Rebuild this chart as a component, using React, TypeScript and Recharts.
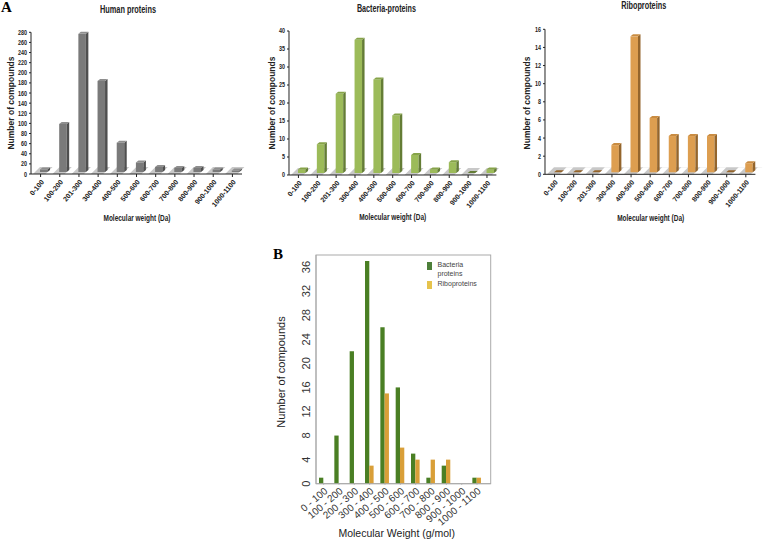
import { BarChart, Bar, XAxis, YAxis } from "recharts";

const ranges = ["0-100", "100-200", "201-300", "300-400", "400-500", "500-600", "600-700", "700-800", "800-900", "900-1000", "1000-1100"];
const rangesB = ["0 - 100", "100 - 200", "200 - 300", "300 - 400", "400 - 500", "500 - 600", "600 - 700", "700 - 800", "800 - 900", "900 - 1000", "1000 - 1100"];

const humanValues = [5, 95, 273, 180, 58, 19, 10, 8, 8, 5, 3];
const bacteriaValues = [1, 8, 22, 37, 26, 16, 5, 1, 3, 0, 1];
const riboValues = [0, 0, 0, 3, 15, 6, 4, 4, 4, 0, 1];

const bacteriaB = [1, 8, 22, 37, 26, 16, 5, 1, 3, 0, 1];
const riboB = [0, 0, 0, 3, 15, 6, 4, 4, 4, 0, 1];

const humanTicks = [0, 20, 40, 60, 80, 100, 120, 140, 160, 180, 200, 220, 240, 260, 280];
const bacteriaTicks = [0, 5, 10, 15, 20, 25, 30, 35, 40];
const riboTicks = [0, 2, 4, 6, 8, 10, 12, 14, 16];
const ticksB = [0, 4, 8, 12, 16, 20, 24, 28, 32, 36];

const ARIAL = "'Liberation Sans', Arial, sans-serif";
const INK = "#222";

type Colors = { front: string; side: string; top: string };

/** Excel-style 3D column: front face, dark side, light cap, nudged onto the floor. */
function Bar3D(props: any) {
  const { x, y, width, height, colors } = props as { x: number; y: number; width: number; height: number; colors: Colors };
  const fx = x + 3;
  const fy = y - 2;
  const d = 2.5;
  const z = 2;
  if (!height) {
    return <polygon points={`${fx},${fy} ${fx + d},${fy - z} ${fx + width + d},${fy - z} ${fx + width},${fy}`} fill={colors.side} />;
  }
  return (
    <g>
      <rect x={fx} y={fy} width={width} height={height} fill={colors.front} />
      <polygon points={`${fx + width},${fy} ${fx + width + d},${fy - z} ${fx + width + d},${fy + height - z} ${fx + width},${fy + height}`} fill={colors.side} />
      <polygon points={`${fx},${fy} ${fx + d},${fy - z} ${fx + width + d},${fy - z} ${fx + width},${fy}`} fill={colors.top} />
    </g>
  );
}

function Floor({ left, right, bottom, count }: { left: number; right: number; bottom: number; count: number }) {
  const band = (right - left) / count;
  const dx = 7;
  const dy = 7;
  const stripes = [];
  for (let i = 0; i < count; i++) {
    const a = left + 5 + i * band + band * 0.5;
    const b = a + band * 0.36;
    stripes.push(<polygon key={i} points={`${a},${bottom} ${a + dx},${bottom - dy} ${b + dx},${bottom - dy} ${b},${bottom}`} fill="#fff" />);
  }
  return (
    <g>
      <polygon points={`${left + 2},${bottom} ${left + 2 + dx},${bottom - dy} ${right + dx},${bottom - dy} ${right},${bottom}`} fill="#c8c8c8" />
      {stripes}
    </g>
  );
}

function NarrowYTick({ x, y, payload }: any) {
  const s = String(payload.value);
  return (
    <text x={x} y={y + 2.5} textAnchor="end" fontFamily={ARIAL} fontWeight={700} fontSize={7.5} fill={INK} textLength={s.length * 3} lengthAdjust="spacingAndGlyphs">
      {s}
    </text>
  );
}

function Panel3D({ title, titleLen, values, ticks, colors, axisX, top, bottom, right, titleX, titleY, labelX, labelY, yLabelX }: {
  title: string; titleLen: number; values: number[]; ticks: number[]; colors: Colors;
  axisX: number; top: number; bottom: number; right: number;
  titleX: number; titleY: number; labelX: number; labelY: number; yLabelX: number;
}) {
  const data = ranges.map((range, i) => ({ range, value: values[i] }));
  const boxX = axisX - 31;
  const boxW = right - boxX + 12;
  const boxH = 232;
  const axisW = 20;
  const axisH = 30;
  const toLocal = (x: number) => x - boxX;
  return (
    <div style={{ position: "absolute", left: boxX, top: 0 }}>
      <BarChart
        width={boxW}
        height={boxH}
        data={data}
        barSize={7.5}
        margin={{ left: 31 - axisW, top, right: boxW - (right - boxX), bottom: boxH - bottom - axisH }}
      >
        <Floor left={31} right={right - boxX} bottom={bottom} count={ranges.length} />
        <text x={toLocal(titleX)} y={titleY} textAnchor="middle" dominantBaseline="middle" fontFamily={ARIAL} fontWeight={700} fontSize={10.5} fill={INK} textLength={titleLen} lengthAdjust="spacingAndGlyphs">{title}</text>
        <text x={toLocal(labelX)} y={labelY} textAnchor="middle" dominantBaseline="middle" fontFamily={ARIAL} fontWeight={700} fontSize={9.5} fill={INK} textLength={67} lengthAdjust="spacingAndGlyphs">Molecular weight (Da)</text>
        <text transform={`rotate(-90 ${toLocal(yLabelX)} 103)`} x={toLocal(yLabelX)} y={103} textAnchor="middle" dominantBaseline="middle" fontFamily={ARIAL} fontWeight={700} fontSize={8.5} fill={INK}>Number of compounds</text>
        <XAxis
          dataKey="range"
          height={axisH}
          interval={0}
          angle={-50}
          textAnchor="end"
          tick={{ fontSize: 7, fontWeight: 700, fontFamily: ARIAL, fill: INK }}
          tickSize={3}
          stroke="#222"
        />
        <YAxis
          width={axisW}
          domain={[ticks[0], ticks[ticks.length - 1]]}
          ticks={ticks}
          interval={0}
          tick={<NarrowYTick />}
          tickSize={2}
          stroke="#222"
        />
        <Bar dataKey="value" isAnimationActive={false} shape={(p: any) => <Bar3D {...p} colors={colors} />} />
      </BarChart>
    </div>
  );
}

function RotatedTick({ x, y, payload }: any) {
  return (
    <text transform={`rotate(-90 ${x - 4} ${y})`} x={x - 4} y={y} textAnchor="middle" fontFamily={ARIAL} fontSize={11} fill="#333">
      {payload.value}
    </text>
  );
}

function LegendB() {
  return (
    <div style={{ position: "absolute", left: 427, top: 261, fontFamily: ARIAL, fontSize: 7, color: "#444", lineHeight: "8.5px" }}>
      <div style={{ display: "flex", gap: 6 }}>
        <span style={{ width: 4.5, height: 8, marginTop: 1, background: "#4d7f3a" }} />
        <span>Bacteria<br />proteins</span>
      </div>
      <div style={{ display: "flex", gap: 6, marginTop: 2 }}>
        <span style={{ width: 4.5, height: 8, marginTop: 1, background: "#e6c34d" }} />
        <span>Riboproteins</span>
      </div>
    </div>
  );
}

function PanelB() {
  const data = rangesB.map((range, i) => ({ range, bacteria: bacteriaB[i], ribo: riboB[i] }));
  const boxX = 270;
  const boxY = 245;
  const boxW = 230;
  const boxH = 296;
  const axisW = 26;
  const axisH = 46;
  const left = 316 - boxX;
  const plotTop = 255 - boxY;
  const plotBottom = 483.7 - boxY;
  const plotRight = 490.7 - boxX;
  return (
    <div style={{ position: "absolute", left: boxX, top: boxY }}>
      <BarChart
        width={boxW}
        height={boxH}
        data={data}
        barSize={4.3}
        barGap={0}
        margin={{ left: left - axisW, top: plotTop, right: boxW - plotRight, bottom: boxH - plotBottom - axisH }}
      >
        <rect x={left} y={plotTop} width={plotRight - left} height={plotBottom - plotTop} fill="#fff" stroke="#aaa" />
        <text x={396.7 - boxX} y={534 - boxY} textAnchor="middle" dominantBaseline="middle" fontFamily={ARIAL} fontSize={10.5} fill="#222">Molecular Weight (g/mol)</text>
        <text transform={`rotate(-90 ${282 - boxX} ${372 - boxY})`} x={282 - boxX} y={372 - boxY} textAnchor="middle" dominantBaseline="middle" fontFamily={ARIAL} fontSize={11} fill="#222">Number of compounds</text>
        <XAxis
          dataKey="range"
          height={axisH}
          interval={0}
          angle={-40}
          textAnchor="end"
          padding={{ left: 0, right: 6 }}
          tick={{ fontSize: 10, fontFamily: ARIAL, fill: "#333" }}
          tickSize={1}
          stroke="#aaa"
        />
        <YAxis width={axisW} domain={[0, 38]} ticks={ticksB} interval={0} tick={<RotatedTick />} tickSize={0} stroke="#aaa" />
        <Bar dataKey="bacteria" name="Bacteria proteins" fill="#4a7f24" isAnimationActive={false} />
        <Bar dataKey="ribo" name="Riboproteins" fill="#d99f38" isAnimationActive={false} />
      </BarChart>
    </div>
  );
}

const letter = { position: "absolute", fontFamily: "'Liberation Serif', serif", fontWeight: 700, fontSize: 15 } as const;

export default function App() {
  return (
    <div style={{ position: "absolute", left: 0, top: 0, width: 765, height: 541, background: "#fff", overflow: "hidden" }}>
      <Panel3D title="Human proteins" titleLen={56} values={humanValues} ticks={humanTicks} colors={{ front: "#7a7a7a", side: "#4f4f4f", top: "#8e8e8e" }}
        axisX={31} top={32.3} bottom={174} right={242} titleX={128} titleY={10} labelX={137} labelY={218} yLabelX={12} />
      <Panel3D title="Bacteria-proteins" titleLen={59} values={bacteriaValues} ticks={bacteriaTicks} colors={{ front: "#9cbb59", side: "#647d35", top: "#86a348" }}
        axisX={289.3} top={31} bottom={175} right={496.7} titleX={386.7} titleY={9} labelX={393} labelY={218} yLabelX={273} />
      <Panel3D title="Riboproteins" titleLen={45} values={riboValues} ticks={riboTicks} colors={{ front: "#dd9e50", side: "#94652c", top: "#c98c42" }}
        axisX={545.3} top={29.3} bottom={174.3} right={755.7} titleX={644} titleY={6} labelX={651} labelY={219} yLabelX={528} />
      <PanelB />
      <LegendB />
      <div style={{ ...letter, left: 1, top: -1 }}>A</div>
      <div style={{ ...letter, left: 273, top: 246 }}>B</div>
    </div>
  );
}
